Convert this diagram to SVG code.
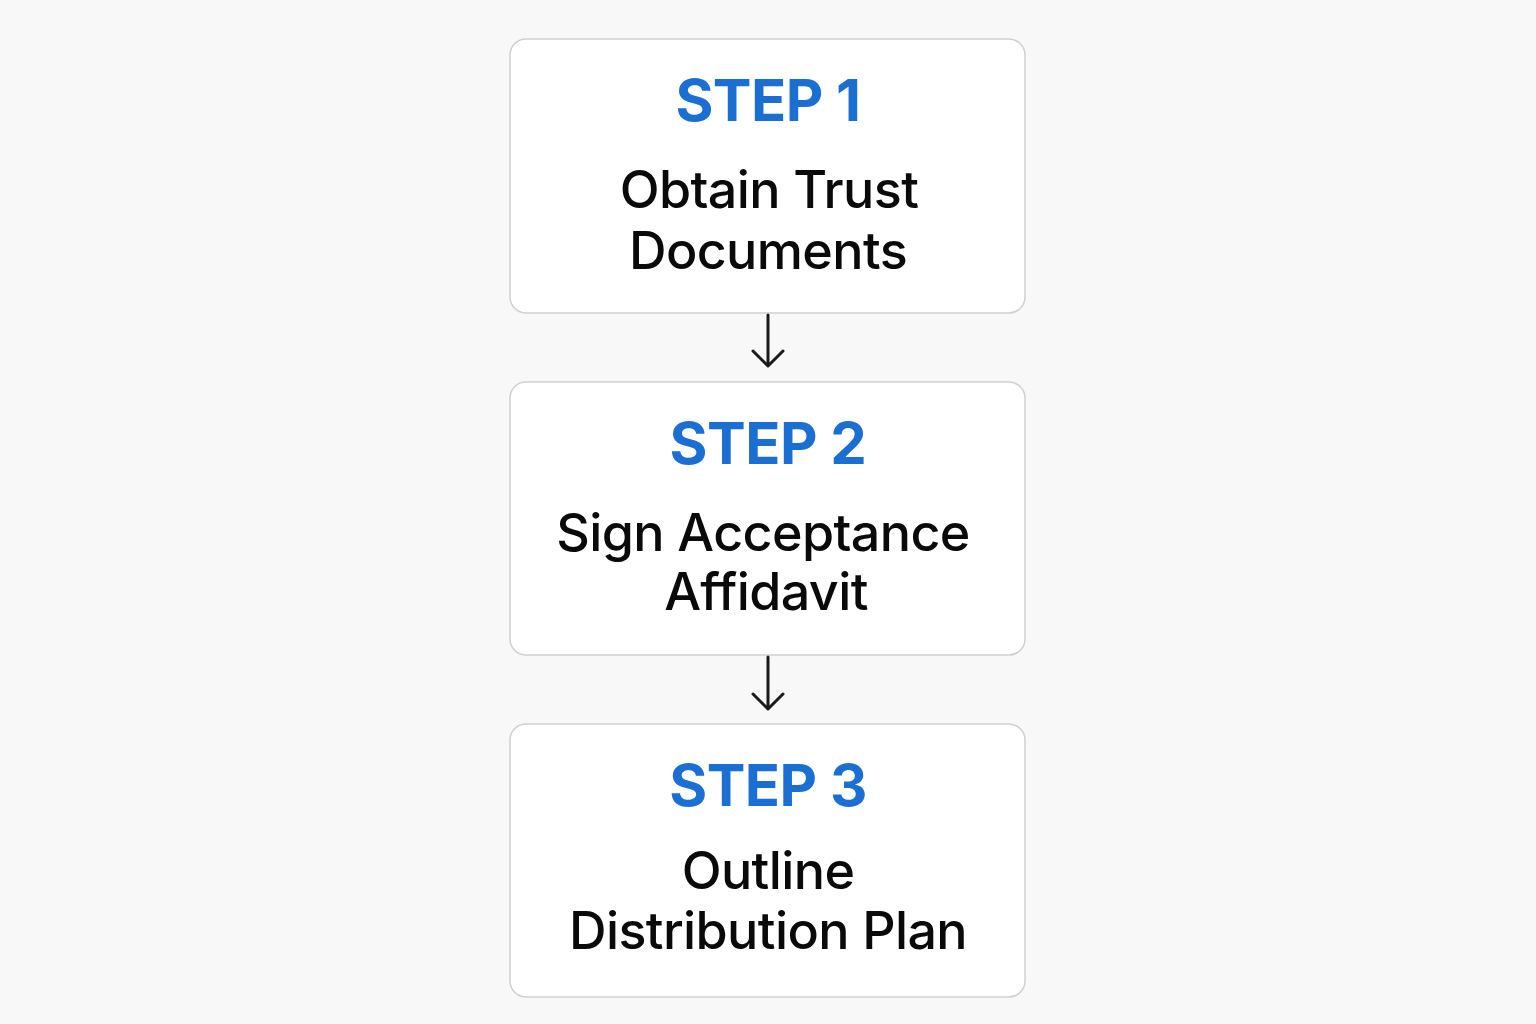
<svg xmlns="http://www.w3.org/2000/svg" width="1536" height="1024" viewBox="0 0 1536 1024">
<defs>
<style>
.box{fill:#ffffff;stroke:#cfcfcf;stroke-width:1.5}
.step{font-family:Inter,"Liberation Sans",sans-serif;font-weight:700;font-size:58px;letter-spacing:-0.5px;fill:#1b6fd2;text-anchor:middle}
.lbl{font-family:Inter,"Liberation Sans",sans-serif;font-weight:500;font-size:52px;letter-spacing:-0.6px;fill:#0a0a0a;text-anchor:middle}
.conn{fill:none;stroke:#1a1a1a;stroke-width:3;stroke-linecap:round;stroke-linejoin:round}
</style>
</defs>
<rect width="1536" height="1024" fill="#f8f8f8"/>
<g id="step1">
<rect class="box" x="510" y="39" width="515" height="274" rx="16"/>
<text class="step" x="768" y="121">STEP 1</text>
<text class="lbl" x="769" y="208">Obtain Trust</text>
<text class="lbl" x="768" y="269">Documents</text>
</g>
<g id="step2">
<rect class="box" x="510" y="382" width="515" height="273" rx="16"/>
<text class="step" x="768" y="464">STEP 2</text>
<text class="lbl" x="763" y="551">Sign Acceptance</text>
<text class="lbl" x="766" y="610">Affidavit</text>
</g>
<g id="step3">
<rect class="box" x="510" y="724" width="515" height="273" rx="16"/>
<text class="step" x="768" y="806">STEP 3</text>
<text class="lbl" x="768" y="889">Outline</text>
<text class="lbl" x="768" y="949">Distribution Plan</text>
</g>
<g id="connectors">
<path class="conn" d="M768 315 V366 M753 351 L768 366 L783 351"/>
<path class="conn" d="M768 657 V709 M753 694 L768 709 L783 694"/>
</g>
</svg>
